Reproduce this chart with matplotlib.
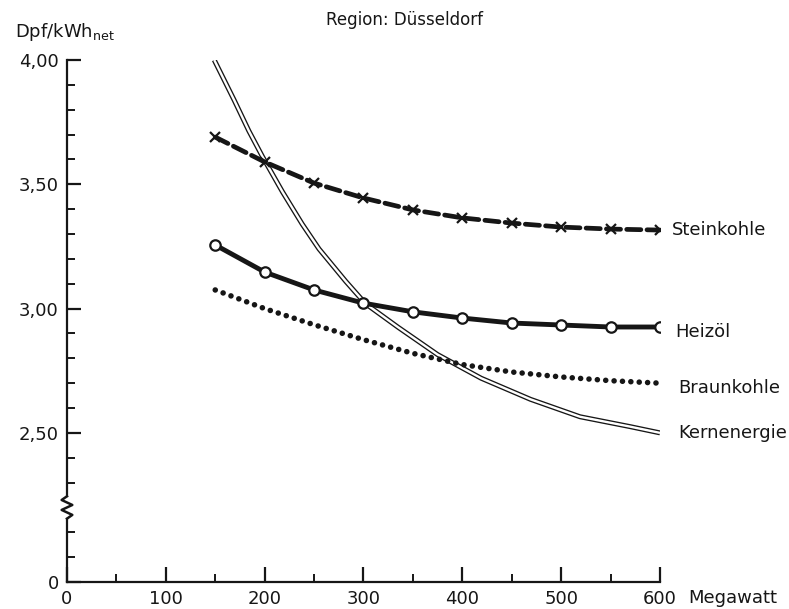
import matplotlib
matplotlib.use("Agg")
import matplotlib.pyplot as plt
from matplotlib.ticker import FixedLocator

# Blocks in Megawatt (markers every 50 MW)
mw = [150, 200, 250, 300, 350, 400, 450, 500, 550, 600]

# Dpf/kWh net
steinkohle = [3.69, 3.59, 3.505, 3.445, 3.397, 3.365, 3.344, 3.328, 3.32, 3.316]
heizoel = [3.256, 3.147, 3.075, 3.022, 2.987, 2.962, 2.942, 2.934, 2.926, 2.926]
braunkohle = [3.075, 3.00, 2.935, 2.875, 2.82, 2.775, 2.745, 2.725, 2.71, 2.70]

kern_mw = [149, 169, 184, 198, 218, 238, 255, 282, 302, 335, 375, 419, 469, 519, 570, 600]
kern = [4.00, 3.84, 3.715, 3.61, 3.47, 3.34, 3.24, 3.11, 3.02, 2.925, 2.815, 2.72,
        2.635, 2.565, 2.525, 2.50]

# y axis is broken below 2,50: the "0" sits where 1.9 would be
y_major = [1.9, 2.5, 3.0, 3.5, 4.0]
y_major_labels = ["0", "2,50", "3,00", "3,50", "4,00"]
y_minor = [2.0, 2.1, 2.3, 2.4, 2.6, 2.7, 2.8, 2.9, 3.1, 3.2, 3.3, 3.4,
           3.6, 3.7, 3.8, 3.9]
x_major = [0, 100, 200, 300, 400, 500, 600]
x_minor = [50, 150, 250, 350, 450, 550]

ink = "#161616"
plt.rcParams['font.family'] = ['DejaVu Sans']

fig = plt.figure(figsize=(7.89, 6.09), dpi=100)
ax = fig.add_axes([0.0849, 0.0443, 0.7516, 0.8571])

# Kernenergie: double line (black with white core)
ax.plot(kern_mw, kern, color=ink, lw=3.6, solid_capstyle="butt",
        solid_joinstyle="round", zorder=3)
ax.plot(kern_mw, kern, color="white", lw=1.7, solid_capstyle="butt",
        solid_joinstyle="round", zorder=3.1)

# Steinkohle: heavy dashes with x markers
ax.plot(mw, steinkohle, color=ink, lw=3.4, linestyle=(0, (3.0, 1.3)),
        dash_capstyle="round", zorder=4)
ax.plot(mw, steinkohle, linestyle="none", marker="x", ms=7, mew=1.6,
        color=ink, zorder=5)

# Heizöl: solid heavy line with open circles
ax.plot(mw, heizoel, color=ink, lw=3.5, marker="o", ms=7.5, mfc="white",
        mec=ink, mew=1.6, zorder=4)

# Braunkohle: dotted
ax.plot(mw, braunkohle, color=ink, lw=4.0, linestyle=(0, (0.01, 1.5)),
        dash_capstyle="round", zorder=4)

ax.set_xlim(0, 600)
ax.set_ylim(1.9, 4.0)

ax.xaxis.set_major_locator(FixedLocator(x_major))
ax.xaxis.set_minor_locator(FixedLocator(x_minor))
ax.set_xticklabels([str(v) for v in x_major])
ax.yaxis.set_major_locator(FixedLocator(y_major))
ax.yaxis.set_minor_locator(FixedLocator(y_minor))
ax.set_yticklabels(y_major_labels)

ax.tick_params(axis="both", which="major", direction="in", length=10,
               width=1.6, color=ink, labelsize=13, labelcolor=ink, pad=6)
ax.tick_params(axis="both", which="minor", direction="in", length=6,
               width=1.4, color=ink)
ax.tick_params(axis="x", which="major", length=11)

for side in ["top", "right", "left"]:
    ax.spines[side].set_visible(False)
ax.spines["bottom"].set_linewidth(1.6)
ax.spines["bottom"].set_color(ink)

# left axis line with the zigzag break
ytr = ax.get_yaxis_transform()
ax.plot([0, 0], [1.9, 2.155], color=ink, lw=1.6, transform=ytr, clip_on=False)
ax.plot([0, 0], [2.245, 4.0], color=ink, lw=1.6, transform=ytr, clip_on=False)
ax.plot([0, -0.009, 0.009, -0.009, 0.009, 0],
        [2.245, 2.23, 2.21, 2.19, 2.17, 2.155],
        color=ink, lw=1.8, transform=ytr, clip_on=False)

# curve names at the right
ax.text(612, steinkohle[-1], "Steinkohle", fontsize=13, color=ink, va="center")
ax.text(615, heizoel[-1] - 0.02, "Heizöl", fontsize=13, color=ink, va="center")
ax.text(618, braunkohle[-1] - 0.02, "Braunkohle", fontsize=13, color=ink, va="center")
ax.text(618, kern[-1], "Kernenergie", fontsize=13, color=ink, va="center")

fig.text(688 / 789, 1 - 598 / 609, "Megawatt", fontsize=13, color=ink,
         va="center", ha="left")
fig.text(15 / 789, 1 - 32 / 609, "Dpf/kWh$_{\\rm net}$", fontsize=13,
         color=ink, va="center", ha="left")
fig.text(404 / 789, 1 - 20 / 609, "Region: Düsseldorf", fontsize=12,
         color=ink, va="center", ha="center")

fig.savefig("out.png", dpi=100, facecolor="white")
